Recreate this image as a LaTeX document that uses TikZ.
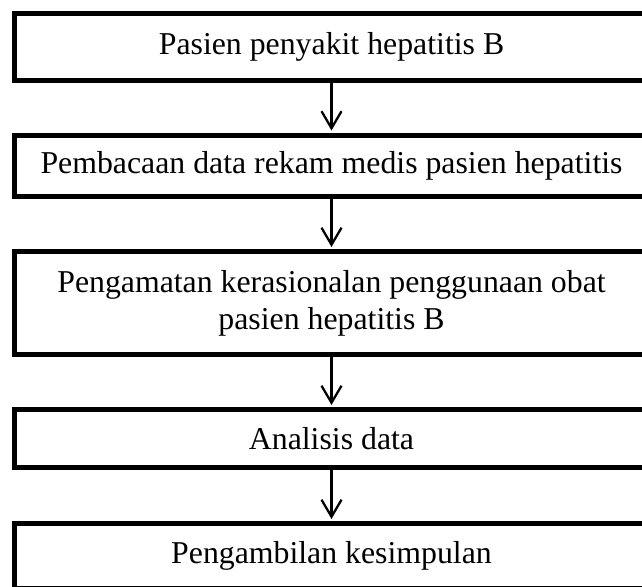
\documentclass[tikz,border=0pt]{standalone}
\usepackage{fontspec}
\setmainfont{Liberation Serif}
\usetikzlibrary{arrows.meta}
\begin{document}
\begin{tikzpicture}[x=1pt,y=-1pt,
  box/.style={draw, line width=5pt, minimum width=635pt, inner sep=0pt, align=center,
    font=\fontsize{31.8}{36.7}\selectfont},
  arr/.style={line width=2.3pt, -{Straight Barb[length=17pt,width=20pt]}, shorten >=2pt}]
\useasboundingbox (0,0) rectangle (642,586);
\clip (0,0) rectangle (642,586);
\node[box, minimum height=66.5pt] (b1) at (331.5,47.25) {Pasien penyakit hepatitis B};
\node[box, minimum height=61.5pt] (b2) at (331.5,165.75) {Pembacaan data rekam medis pasien hepatitis};
\node[box, minimum height=103pt] (b3) at (331.5,303) {Pengamatan kerasionalan penggunaan obat\\pasien hepatitis B};
\node[box, minimum height=58pt] (b4) at (331.5,438.5) {Analisis data};
\node[box, minimum height=64.5pt] (b5) at (331.5,555.75) {Pengambilan kesimpulan};
\draw[arr] (b1) -- (b2);
\draw[arr] (b2) -- (b3);
\draw[arr] (b3) -- (b4);
\draw[arr] (b4) -- (b5);
\end{tikzpicture}
\end{document}
